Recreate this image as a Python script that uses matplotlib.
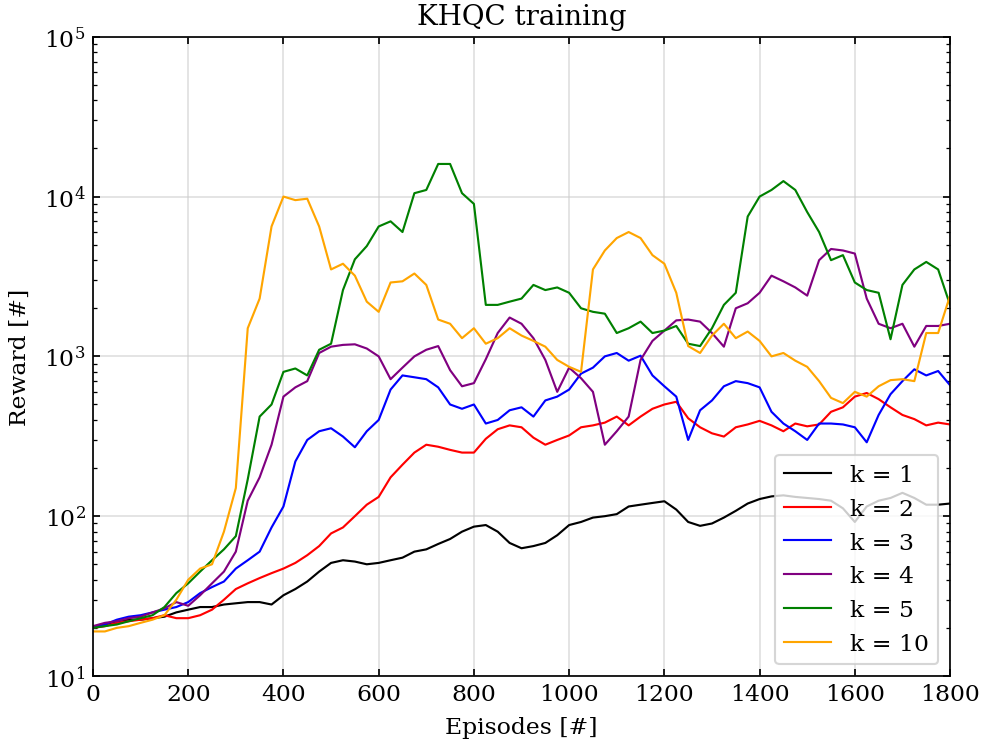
import matplotlib
matplotlib.use("Agg")
import matplotlib.pyplot as plt
import numpy as np

episodes = list(range(0, 1801, 25))

k1 = [20, 21, 22, 22.5, 22.5, 23, 23.5, 25, 26, 27, 27, 28, 28.5, 29, 29, 28, 32, 35, 39, 45,
      51, 53, 52, 50, 51, 53, 55, 60, 62, 67, 72, 80, 86, 88, 80, 68, 63, 65, 68, 76,
      88, 92, 98, 100, 103, 115, 118, 121, 124, 110, 92, 87, 90, 98, 108, 120, 128, 133, 135, 132,
      130, 128, 125, 112, 92, 115, 125, 130, 140, 130, 118, 118, 120]

k2 = [20, 20.5, 21.5, 22, 22.5, 23, 24, 23, 23, 24, 26, 30, 35, 38, 41, 44, 47, 51, 57, 65,
      78, 85, 100, 118, 132, 175, 210, 250, 280, 272, 260, 250, 250, 305, 350, 370, 360, 310, 280, 300,
      320, 360, 370, 385, 420, 370, 420, 470, 500, 520, 410, 360, 330, 315, 360, 375, 395, 370, 340, 380,
      365, 375, 450, 480, 560, 590, 540, 480, 430, 405, 370, 385, 375]

k3 = [20, 21, 22.5, 23.5, 24, 25, 26, 27, 29, 33, 36, 39, 47, 53, 60, 85, 115, 220, 300, 340,
      355, 315, 270, 340, 400, 620, 760, 740, 720, 640, 500, 470, 500, 380, 400, 460, 480, 420, 530, 560,
      620, 780, 850, 1000, 1050, 940, 1010, 760, 650, 560, 300, 460, 530, 650, 700, 680, 640, 450, 380, 340,
      300, 380, 380, 375, 360, 290, 430, 580, 700, 830, 760, 810, 660]

k4 = [20.5, 21.5, 22, 23, 23.5, 25, 26.5, 29, 27.5, 32, 38, 45, 60, 125, 175, 280, 560, 640, 700, 1050,
      1150, 1180, 1190, 1120, 1000, 720, 850, 1000, 1100, 1160, 820, 650, 680, 960, 1400, 1750, 1600, 1300, 950, 600,
      850, 730, 600, 280, 340, 420, 950, 1250, 1450, 1680, 1700, 1650, 1400, 1150, 2000, 2150, 2500, 3200, 2950, 2700,
      2400, 4000, 4700, 4600, 4400, 2300, 1600, 1500, 1600, 1150, 1550, 1550, 1600]

k5 = [20, 20.5, 21, 22, 23, 24, 27, 33, 38, 45, 53, 62, 75, 170, 420, 500, 800, 840, 760, 1100,
      1200, 2600, 4050, 4900, 6500, 7000, 6000, 10500, 11000, 16000, 16000, 10500, 9000, 2100, 2100, 2200, 2300, 2800, 2600, 2700,
      2500, 2000, 1900, 1850, 1400, 1500, 1650, 1400, 1450, 1550, 1200, 1160, 1500, 2100, 2500, 7500, 10000, 11000, 12500, 11000,
      8000, 6000, 4000, 4300, 2900, 2600, 2500, 1280, 2800, 3500, 3900, 3500, 2100]

k10 = [19, 19, 20, 20.5, 21.5, 22.5, 24, 30, 40, 47, 50, 80, 150, 1500, 2300, 6500, 10000, 9500, 9700, 6500,
       3500, 3800, 3200, 2200, 1900, 2900, 2950, 3300, 2800, 1700, 1600, 1300, 1500, 1200, 1300, 1500, 1350, 1250, 1150, 950,
       860, 800, 3500, 4600, 5500, 6000, 5500, 4300, 3800, 2500, 1160, 1050, 1350, 1600, 1300, 1430, 1250, 1000, 1050, 940,
       860, 700, 550, 510, 600, 560, 650, 710, 720, 700, 1400, 1400, 2400]

series = [("k = 1", k1, "black"), ("k = 2", k2, "red"), ("k = 3", k3, "blue"),
          ("k = 4", k4, "purple"), ("k = 5", k5, "green"), ("k = 10", k10, "orange")]

plt.rcParams["font.family"] = ["DejaVu Serif"]
plt.rcParams["mathtext.fontset"] = "dejavuserif"

fig = plt.figure(figsize=(6.4, 4.8455), dpi=153.75)
ax = fig.add_axes([0.0945, 0.0913, 0.871, 0.858])

for label, vals, color in series:
    ax.plot(episodes, vals, color=color, lw=1.0, label=label)

ax.set_yscale("log")
ax.set_xlim(0, 1800)
ax.set_ylim(10, 1e5)
ax.set_xticks(range(0, 1801, 200))
ax.tick_params(which="both", direction="in", top=True, right=True, labelsize=11)
ax.tick_params(axis="x", which="minor", bottom=False, top=False)
ax.grid(True, which="major", color="#cccccc", alpha=0.6, lw=0.8)
ax.set_xlabel("Episodes [#]", fontsize=11, labelpad=5)
ax.set_ylabel("Reward [#]", fontsize=11, labelpad=6)
ax.set_title("KHQC training", fontsize=13, pad=6)
ax.legend(loc="lower right", fontsize=11, handlelength=2.0)

fig.savefig("out.png", dpi=153.75)
